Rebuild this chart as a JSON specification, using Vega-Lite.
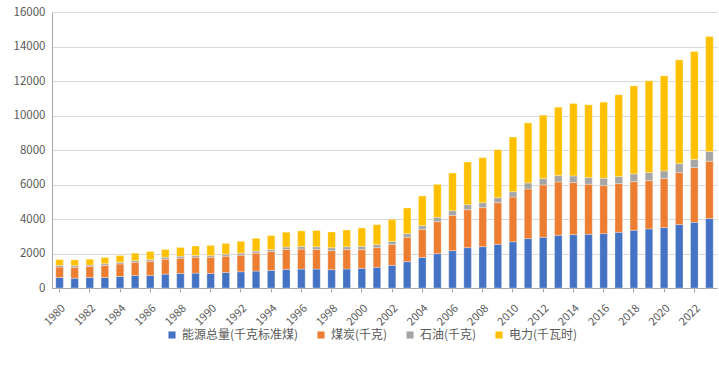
{
  "$schema": "https://vega.github.io/schema/vega-lite/v6.json",
  "width": 665,
  "height": 276,
  "autosize": {"type": "none"},
  "padding": {"left": 52, "top": 12, "right": 2, "bottom": 90},
  "background": "white",
  "config": {
    "font": "Noto Sans CJK SC",
    "view": {"stroke": null},
    "axis": {"labelColor": "#595959", "labelFont": "Noto Sans CJK SC"}
  },
  "data": {
    "values": [
      {"year": 1980, "能源总量(千克标准煤)": 608, "煤炭(千克)": 607, "石油(千克)": 98, "电力(千瓦时)": 333},
      {"year": 1981, "能源总量(千克标准煤)": 568, "煤炭(千克)": 628, "石油(千克)": 98, "电力(千瓦时)": 333},
      {"year": 1982, "能源总量(千克标准煤)": 608, "煤炭(千克)": 646, "石油(千克)": 79, "电力(千瓦时)": 333},
      {"year": 1983, "能源总量(千克标准煤)": 608, "煤炭(千克)": 705, "石油(千克)": 98, "电力(千瓦时)": 353},
      {"year": 1984, "能源总量(千克标准煤)": 666, "煤炭(千克)": 726, "石油(千克)": 98, "电力(千瓦时)": 392},
      {"year": 1985, "能源总量(千克标准煤)": 725, "煤炭(千克)": 765, "石油(千克)": 98, "电力(千瓦时)": 431},
      {"year": 1986, "能源总量(千克标准煤)": 725, "煤炭(千克)": 823, "石油(千克)": 98, "电力(千瓦时)": 471},
      {"year": 1987, "能源总量(千克标准煤)": 804, "煤炭(千克)": 862, "石油(千克)": 118, "电力(千瓦时)": 450},
      {"year": 1988, "能源总量(千克标准煤)": 843, "煤炭(千克)": 882, "石油(千克)": 117, "电力(千瓦时)": 510},
      {"year": 1989, "能源总量(千克标准煤)": 862, "煤炭(千克)": 922, "石油(千克)": 98, "电力(千瓦时)": 548},
      {"year": 1990, "能源总量(千克标准煤)": 843, "煤炭(千克)": 941, "石油(千克)": 98, "电力(千瓦时)": 588},
      {"year": 1991, "能源总量(千克标准煤)": 902, "煤炭(千克)": 940, "石油(千克)": 118, "电力(千瓦时)": 627},
      {"year": 1992, "能源总量(千克标准煤)": 941, "煤炭(千克)": 960, "石油(千克)": 118, "电力(千瓦时)": 686},
      {"year": 1993, "能源总量(千克标准煤)": 980, "煤炭(千克)": 1039, "石油(千克)": 117, "电力(千瓦时)": 745},
      {"year": 1994, "能源总量(千克标准煤)": 1019, "煤炭(千克)": 1098, "石油(千克)": 117, "电力(千瓦时)": 804},
      {"year": 1995, "能源总量(千克标准煤)": 1078, "煤炭(千克)": 1156, "石油(千克)": 138, "电力(千瓦时)": 862},
      {"year": 1996, "能源总量(千克标准煤)": 1098, "煤炭(千克)": 1156, "石油(千克)": 157, "电力(千瓦时)": 901},
      {"year": 1997, "能源总量(千克标准煤)": 1098, "煤炭(千克)": 1136, "石油(千克)": 157, "电力(千瓦时)": 941},
      {"year": 1998, "能源总量(千克标准煤)": 1063, "煤炭(千克)": 1101, "石油(千克)": 174, "电力(千瓦时)": 908},
      {"year": 1999, "能源总量(千克标准煤)": 1101, "煤炭(千克)": 1121, "石油(千克)": 174, "电力(千瓦时)": 966},
      {"year": 2000, "能源总量(千克标准煤)": 1140, "煤炭(千克)": 1082, "石油(千克)": 193, "电力(千瓦时)": 1063},
      {"year": 2001, "能源总量(千克标准煤)": 1198, "煤炭(千克)": 1140, "石油(千克)": 174, "电力(千瓦时)": 1159},
      {"year": 2002, "能源总量(千克标准煤)": 1314, "煤炭(千克)": 1198, "石油(千克)": 193, "电力(千瓦时)": 1275},
      {"year": 2003, "能源总量(千克标准煤)": 1526, "煤炭(千克)": 1411, "石油(千克)": 212, "电力(千瓦时)": 1488},
      {"year": 2004, "能源总量(千克标准煤)": 1770, "煤炭(千克)": 1630, "石油(千克)": 213, "电力(千瓦时)": 1719},
      {"year": 2005, "能源总量(千克标准煤)": 1990, "煤炭(千克)": 1855, "石油(千克)": 251, "电力(千瓦时)": 1913},
      {"year": 2006, "能源总量(千克标准煤)": 2164, "煤炭(千克)": 2048, "石油(千克)": 270, "电力(千瓦时)": 2183},
      {"year": 2007, "能源总量(千克标准煤)": 2338, "煤炭(千克)": 2202, "石油(千克)": 290, "电力(千瓦时)": 2473},
      {"year": 2008, "能源总量(千克标准煤)": 2396, "煤炭(千克)": 2260, "石油(千克)": 290, "电力(千瓦时)": 2608},
      {"year": 2009, "能源总量(千克标准煤)": 2531, "煤炭(千克)": 2415, "石油(千克)": 290, "电力(千瓦时)": 2782},
      {"year": 2010, "能源总量(千克标准煤)": 2680, "煤炭(千克)": 2594, "石油(千克)": 309, "电力(千瓦时)": 3172},
      {"year": 2011, "能源总量(千克标准煤)": 2862, "煤炭(千克)": 2882, "石油(千克)": 348, "电力(千瓦时)": 3481},
      {"year": 2012, "能源总量(千克标准煤)": 2940, "煤炭(千克)": 3036, "石油(千克)": 368, "电力(千瓦时)": 3674},
      {"year": 2013, "能源总量(千克标准煤)": 3056, "煤炭(千克)": 3094, "石油(千克)": 368, "电力(千瓦时)": 3964},
      {"year": 2014, "能源总量(千克标准煤)": 3094, "煤炭(千克)": 3017, "石油(千克)": 387, "电力(千瓦时)": 4197},
      {"year": 2015, "能源总量(千克标准煤)": 3114, "煤炭(千克)": 2901, "石油(千克)": 387, "电力(千瓦时)": 4216},
      {"year": 2016, "能源总量(千克标准煤)": 3152, "煤炭(千克)": 2785, "石油(千克)": 426, "电力(千瓦时)": 4409},
      {"year": 2017, "能源总量(千克标准煤)": 3230, "煤炭(千克)": 2823, "石油(千克)": 407, "电力(千瓦时)": 4738},
      {"year": 2018, "能源总量(千克标准煤)": 3346, "煤炭(千克)": 2823, "石油(千克)": 445, "电力(千瓦时)": 5106},
      {"year": 2019, "能源总量(千克标准煤)": 3423, "煤炭(千克)": 2804, "石油(千克)": 465, "电力(千瓦时)": 5318},
      {"year": 2020, "能源总量(千克标准煤)": 3501, "煤炭(千克)": 2843, "石油(千克)": 444, "电力(千瓦时)": 5512},
      {"year": 2021, "能源总量(千克标准煤)": 3675, "煤炭(千克)": 3017, "石油(千克)": 522, "电力(千瓦时)": 6015},
      {"year": 2022, "能源总量(千克标准煤)": 3810, "煤炭(千克)": 3172, "石油(千克)": 464, "电力(千瓦时)": 6266},
      {"year": 2023, "能源总量(千克标准煤)": 4023, "煤炭(千克)": 3326, "石油(千克)": 561, "电力(千瓦时)": 6672}
    ]
  },
  "transform": [
    {"fold": ["能源总量(千克标准煤)", "煤炭(千克)", "石油(千克)", "电力(千瓦时)"], "as": ["series", "value"]},
    {
      "lookup": "series",
      "from": {
        "data": {
          "values": [
            {"series": "能源总量(千克标准煤)", "rank": 1},
            {"series": "煤炭(千克)", "rank": 2},
            {"series": "石油(千克)", "rank": 3},
            {"series": "电力(千瓦时)", "rank": 4}
          ]
        },
        "key": "series",
        "fields": ["rank"]
      }
    }
  ],
  "mark": {"type": "bar", "stroke": "white", "strokeOpacity": 0.5, "strokeWidth": 0.6},
  "encoding": {
    "x": {
      "field": "year",
      "type": "ordinal",
      "scale": {"paddingInner": 0.5, "paddingOuter": 0.25},
      "axis": {
        "title": null,
        "values": [1980,1982,1984,1986,1988,1990,1992,1994,1996,1998,2000,2002,2004,2006,2008,2010,2012,2014,2016,2018,2020,2022],
        "labelAngle": -45,
        "labelFontSize": 11,
        "labelPadding": 10,
        "labelDx": 5,
        "labelDy": 5,
        "domainColor": "#A6A6A6",
        "tickColor": "#A6A6A6",
        "tickSize": 4,
        "grid": false
      }
    },
    "y": {
      "field": "value",
      "type": "quantitative",
      "stack": "zero",
      "scale": {"domain": [0, 16000], "nice": false},
      "axis": {
        "title": null,
        "values": [0,2000,4000,6000,8000,10000,12000,14000,16000],
        "format": "d",
        "labelFontSize": 11.5,
        "labelPadding": 7,
        "ticks": false,
        "domain": true,
        "domainColor": "#A6A6A6",
        "gridColor": "#D9D9D9",
        "gridWidth": 1
      }
    },
    "order": {"field": "rank", "type": "quantitative", "sort": "ascending"},
    "color": {
      "field": "series",
      "type": "nominal",
      "sort": ["能源总量(千克标准煤)", "煤炭(千克)", "石油(千克)", "电力(千瓦时)"],
      "scale": {
        "domain": ["能源总量(千克标准煤)", "煤炭(千克)", "石油(千克)", "电力(千瓦时)"],
        "range": ["#4472C4", "#ED7D31", "#A5A5A5", "#FFC000"]
      },
      "legend": {
        "title": null,
        "orient": "none",
        "direction": "horizontal",
        "legendX": 114,
        "legendY": 317,
        "symbolType": "square",
        "symbolSize": 50,
        "symbolStrokeWidth": 0,
        "labelFontSize": 12,
        "labelColor": "#595959",
        "labelOffset": 4,
        "columnPadding": 16,
        "labelLimit": 300
      }
    }
  }
}
